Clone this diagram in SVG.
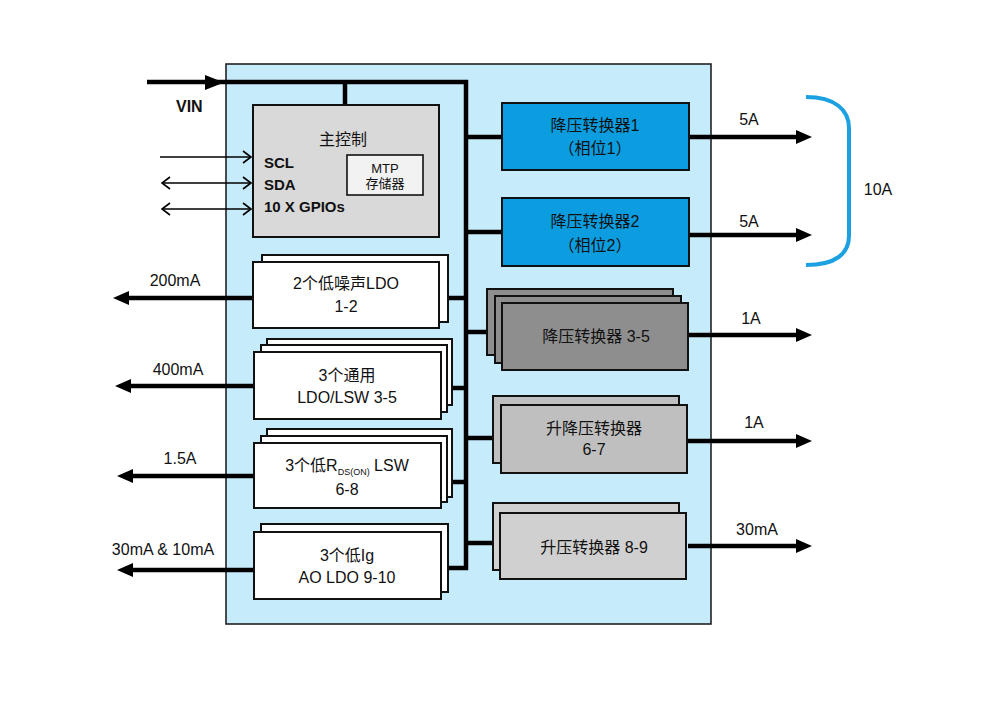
<svg xmlns="http://www.w3.org/2000/svg" width="1000" height="726" viewBox="0 0 1000 726">
<style>
text{font-family:"Liberation Sans","Noto Sans CJK SC",sans-serif;fill:#111;}
.t{font-size:16px;text-anchor:middle;}
.lb{font-size:16px;text-anchor:middle;}
.b{font-weight:bold;font-size:15px;}
.box{stroke:#111;stroke-width:2;}
.w{fill:#fff;}
.bl{fill:#0b9de0;}
.g1{fill:#8e8e8e;}
.g2{fill:#bfbfbf;}
.g3{fill:#d0d0d0;}
.bus{stroke:#000;stroke-width:4.5;fill:none;}
.arr{stroke:#000;stroke-width:4.5;fill:none;marker-end:url(#ah);}
.thin{stroke:#000;stroke-width:1.5;fill:none;}
</style>
<defs>
<marker id="ah" markerUnits="userSpaceOnUse" viewBox="0 0 16 14" markerWidth="16" markerHeight="14" refX="4" refY="7" orient="auto">
<path d="M0,0 L16,7 L0,14 z" fill="#000"/>
</marker>
<marker id="ch" markerUnits="userSpaceOnUse" viewBox="0 0 10 14" markerWidth="10" markerHeight="14" refX="9" refY="7" orient="auto-start-reverse">
<path d="M1,1 L9,7 L1,13" fill="none" stroke="#000" stroke-width="1.6"/>
</marker>
</defs>
<rect width="1000" height="726" fill="#fff"/>
<rect id="chip" x="226" y="64" width="485" height="560" fill="#c6ecfb" stroke="#222" stroke-width="1.6"/>

<g id="connectors">
<path class="bus" d="M147,82 H466 V568 H448"/>
<polygon points="205,75 224,82.5 205,90" fill="#000"/>
<path class="bus" d="M345,82 V105"/>
<path class="bus" d="M448,298 H466"/>
<path class="bus" d="M452,388 H466"/>
<path class="bus" d="M452,482 H466"/>
<path class="bus" d="M466,137 H502"/>
<path class="bus" d="M466,232 H502"/>
<path class="bus" d="M466,332 H487"/>
<path class="bus" d="M466,438 H493"/>
<path class="bus" d="M466,543 H493"/>
<path class="thin" d="M160,157 H251" marker-end="url(#ch)"/>
<path class="thin" d="M162,183 H251" marker-start="url(#ch)" marker-end="url(#ch)"/>
<path class="thin" d="M162,209 H251" marker-start="url(#ch)" marker-end="url(#ch)"/>
<path class="arr" d="M253,298 H125"/>
<path class="arr" d="M254,386 H127"/>
<path class="arr" d="M254,476 H129"/>
<path class="arr" d="M254,570 H129"/>
<path class="arr" d="M688,137 H800"/>
<path class="arr" d="M688,235 H800"/>
<path class="arr" d="M688,335 H800"/>
<path class="arr" d="M688,441 H800"/>
<path class="arr" d="M688,546 H800"/>
<path d="M806,97 C835,97 849,110 849,128 L849,236 C849,254 835,265 806,265" fill="none" stroke="#1ba0e2" stroke-width="4"/>
</g>

<g id="labels">
<text x="176" y="112" class="b" style="font-size:16px">VIN</text>
<text x="175" y="286" class="lb">200mA</text>
<text x="178" y="375" class="lb">400mA</text>
<text x="180" y="464" class="lb">1.5A</text>
<text x="163" y="555" class="lb">30mA &amp; 10mA</text>
<text x="749" y="125" class="lb">5A</text>
<text x="749" y="227" class="lb">5A</text>
<text x="751" y="324" class="lb">1A</text>
<text x="754" y="428" class="lb">1A</text>
<text x="757" y="535" class="lb">30mA</text>
<text x="878" y="195" class="lb">10A</text>
</g>

<g id="main-control">
<rect class="box" x="253" y="105" width="186" height="132" fill="#d9d9d9"/>
<text x="343" y="145" class="t">主控制</text>
<text x="264" y="168" class="b">SCL</text>
<text x="264" y="190" class="b">SDA</text>
<text x="264" y="212" class="b">10 X GPIOs</text>
</g>
<g id="mtp">
<rect x="347" y="155" width="76" height="40" fill="#f2f2f2" stroke="#111" stroke-width="1.6"/>
<text x="385" y="173" class="t" style="font-size:13px">MTP</text>
<text x="385" y="188" class="t" style="font-size:13px">存储器</text>
</g>

<g id="ldo-1-2">
<rect class="box w" x="262" y="255" width="186" height="67"/>
<rect class="box w" x="253" y="262" width="186" height="66"/>
<text x="346" y="289" class="t">2个低噪声LDO</text>
<text x="346" y="312" class="t">1-2</text>
</g>
<g id="ldo-3-5">
<rect class="box w" x="267" y="339" width="185" height="66"/>
<rect class="box w" x="261" y="345" width="186" height="67"/>
<rect class="box w" x="254" y="352" width="187" height="67"/>
<text x="347" y="381" class="t">3个通用</text>
<text x="347" y="403" class="t">LDO/LSW 3-5</text>
</g>
<g id="lsw-6-8">
<rect class="box w" x="267" y="429" width="185" height="68"/>
<rect class="box w" x="261" y="436" width="186" height="66"/>
<rect class="box w" x="254" y="443" width="187" height="65"/>
<text x="347" y="471" class="t">3个低R<tspan font-size="9" dy="4">DS(ON)</tspan><tspan dy="-4"> LSW</tspan></text>
<text x="347" y="495" class="t">6-8</text>
</g>
<g id="ldo-9-10">
<rect class="box w" x="261" y="524" width="187" height="68"/>
<rect class="box w" x="254" y="532" width="187" height="67"/>
<text x="347" y="561" class="t">3个低Ig</text>
<text x="347" y="583" class="t">AO LDO 9-10</text>
</g>

<g id="buck-1">
<rect class="box bl" x="502" y="103" width="187" height="67"/>
<text x="595" y="131" class="t">降压转换器1</text>
<text x="595" y="154" class="t">（相位1）</text>
</g>
<g id="buck-2">
<rect class="box bl" x="502" y="198" width="187" height="68"/>
<text x="595" y="227" class="t">降压转换器2</text>
<text x="595" y="251" class="t">（相位2）</text>
</g>
<g id="buck-3-5">
<rect class="box g1" x="487" y="289" width="186" height="66"/>
<rect class="box g1" x="495" y="296" width="186" height="67"/>
<rect class="box g1" x="502" y="303" width="186" height="67"/>
<text x="596" y="342" class="t">降压转换器 3-5</text>
</g>
<g id="buck-boost-6-7">
<rect class="box g2" x="493" y="396" width="186" height="67"/>
<rect class="box g2" x="501" y="405" width="186" height="68"/>
<text x="594" y="434" class="t">升降压转换器</text>
<text x="594" y="455" class="t">6-7</text>
</g>
<g id="boost-8-9">
<rect class="box g3" x="493" y="503" width="186" height="67"/>
<rect class="box g3" x="500" y="513" width="186" height="66"/>
<text x="594" y="553" class="t">升压转换器 8-9</text>
</g>
</svg>
